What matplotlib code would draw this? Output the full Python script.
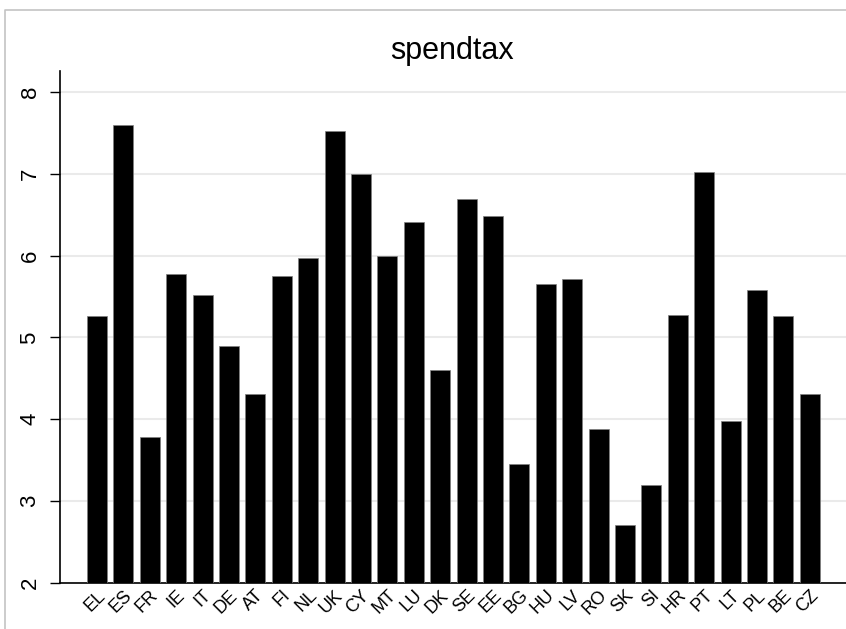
import numpy as np
import matplotlib
matplotlib.use("Agg")
import matplotlib.pyplot as plt
from matplotlib.lines import Line2D

plt.rcParams['font.family'] = ['Liberation Sans', 'DejaVu Sans']

# data
countries = ['EL', 'ES', 'FR', 'IE', 'IT', 'DE', 'AT', 'FI', 'NL', 'UK',
             'CY', 'MT', 'LU', 'DK', 'SE', 'EE', 'BG', 'HU', 'LV', 'RO',
             'SK', 'SI', 'HR', 'PT', 'LT', 'PL', 'BE', 'CZ']
spendtax = [5.26, 7.60, 3.78, 5.78, 5.52, 4.90, 4.31, 5.75, 5.97, 7.53,
            7.00, 6.00, 6.41, 4.60, 6.70, 6.49, 3.45, 5.65, 5.72, 3.88,
            2.71, 3.19, 5.28, 7.03, 3.98, 5.58, 5.26, 4.31]
yticks = [2, 3, 4, 5, 6, 7, 8]

fig = plt.figure(figsize=(8.46, 6.29), dpi=100)
ax = fig.add_axes([60 / 846, 1 - 582.7 / 629, 1 - 60 / 846, (582.7 - 71) / 629])

x = np.arange(len(countries))
ax.bar(x, np.array(spendtax) - 2, bottom=2, width=0.76, color='black',
       edgecolor='#808080', linewidth=0.5, zorder=3)

ax.set_ylim(2, 8.26)
ax.set_xlim(-1.4, 28.37)
ax.set_yticks(yticks)
ax.set_yticklabels([str(t) for t in yticks], rotation=90, va='center', fontsize=16)
ax.set_xticks(x)
ax.set_xticklabels(countries, rotation=45, ha='right', rotation_mode='anchor', fontsize=13)
ax.tick_params(axis='y', length=7, width=1, pad=7)
ax.tick_params(axis='x', length=0, pad=3)
ax.yaxis.grid(True, color='#eaeaea', linewidth=1.5, zorder=0)
ax.set_axisbelow(True)

for side in ['top', 'right']:
    ax.spines[side].set_visible(False)
ax.spines['left'].set_linewidth(1.2)
ax.spines['bottom'].set_linewidth(1.2)

fig.text(452 / 846, 1 - 59 / 629, 'spendtax', ha='center', va='baseline', fontsize=22)

# light frame of the graph region
fig.add_artist(Line2D([5 / 846, 5 / 846, 1], [0, 1 - 10 / 629, 1 - 10 / 629],
                      transform=fig.transFigure, color='#c4c4c4', linewidth=1.2))

fig.savefig('out.png', dpi=100)
